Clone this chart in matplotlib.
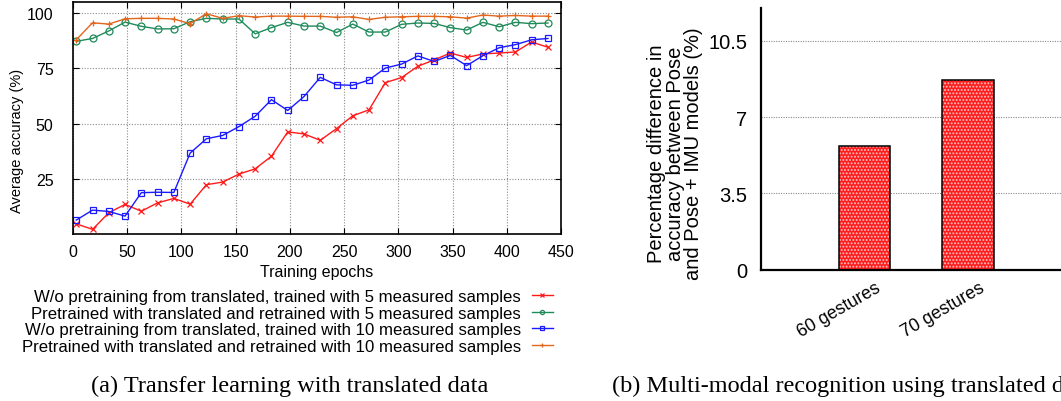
import matplotlib
matplotlib.use("Agg")
import matplotlib.pyplot as plt
import matplotlib.transforms as mtransforms

plt.rcParams['font.family'] = ['Liberation Sans', 'DejaVu Sans']
plt.rcParams['hatch.linewidth'] = 0.9

# ---------------- data (left: transfer learning) ----------------
epochs = [3, 18, 33, 48, 63, 78, 93, 108, 123, 138, 153, 168, 183, 198, 213,
          228, 243, 258, 273, 288, 303, 318, 333, 348, 363, 378, 393, 408, 423, 438]
wo_5 = [4.6, 2.1, 9.6, 13.4, 10.3, 14.1, 16.1, 13.5, 22.3, 23.5, 27.1, 29.5, 35.2, 46.2, 45.3,
        42.4, 47.7, 53.5, 56.2, 68.5, 70.8, 75.9, 78.8, 81.9, 79.9, 81.5, 81.9, 82.4, 86.9, 84.5]
pre_5 = [87.2, 88.5, 91.9, 95.9, 94.0, 92.8, 92.9, 96.1, 97.6, 97.3, 97.3, 90.6, 93.4, 95.8, 94.1,
         94.1, 91.2, 95.0, 91.4, 91.4, 94.9, 95.5, 95.3, 93.4, 92.3, 95.8, 93.8, 95.8, 95.2, 95.5]
wo_10 = [6.3, 10.8, 10.2, 8.1, 18.7, 18.9, 18.8, 36.6, 43.1, 44.6, 48.6, 53.3, 60.8, 55.9, 62.2,
         70.9, 67.5, 67.3, 69.7, 75.1, 76.9, 80.6, 78.1, 80.8, 76.2, 80.7, 84.3, 85.7, 87.9, 88.5]
pre_10 = [87.9, 95.6, 95.0, 97.4, 97.6, 97.6, 97.3, 95.2, 99.7, 97.6, 98.8, 98.2, 98.6, 98.6, 98.5,
          98.5, 98.1, 98.3, 97.1, 98.1, 98.3, 98.5, 98.5, 98.3, 97.7, 99.1, 98.6, 98.9, 98.6, 98.6]
series_labels = [
    "W/o pretraining from translated, trained with 5 measured samples",
    "Pretrained with translated and retrained with 5 measured samples",
    "W/o pretraining from translated, trained with 10 measured samples",
    "Pretrained with translated and retrained with 10 measured samples",
]
x_ticks = [0, 50, 100, 150, 200, 250, 300, 350, 400, 450]
y_ticks = [25, 50, 75, 100]

# ---------------- data (right: multi-modal) ----------------
gesture_labels = ["60 gestures", "70 gestures"]
pct_diff = [5.7, 8.73]
y2_ticks = [0, 3.5, 7, 10.5]
y2_ticklabels = ["0", "3.5", "7", "10.5"]

W, H = 1061, 402
fig = plt.figure(figsize=(W / 100, H / 100), dpi=100)

def px_axes(l, t, r, b):
    return [l / W, 1 - b / H, (r - l) / W, (b - t) / H]

# ---------------- left chart ----------------
ax = fig.add_axes(px_axes(73, 3, 561, 235))
styles = [
    dict(color='#ff1a1a', marker='x', mfc='none'),
    dict(color='#1f8a5a', marker='o', mfc='none'),
    dict(color='#1a1aff', marker='s', mfc='none'),
    dict(color='#e2661c', marker='+', mfc='none'),
]
for ys, st, lab in zip([wo_5, pre_5, wo_10, pre_10], styles, series_labels):
    ax.plot(epochs, ys, lw=1.0, ms=5, mew=0.9, label=lab, **st)

ax.set_xlim(0, 450)
ax.set_ylim(0, 105)
ax.set_xticks(x_ticks)
ax.set_yticks(y_ticks)
ax.tick_params(direction='in', length=4, width=0.8, top=True, right=True,
               labelsize=11.5, pad=7)
ax.tick_params(axis='y', pad=14)
ax.grid(True, color='#8a8a8a', linestyle=(0, (1, 1.5)), lw=0.8)
for sp in ax.spines.values():
    sp.set_linewidth(1.2)
ax.set_xlabel("Training epochs", fontsize=11.5, labelpad=4)
ax.set_ylabel("Average accuracy (%)", fontsize=10.5)
ax.yaxis.set_label_coords((24 - 73) / 488, (235 - 140.5) / 232)

leg = ax.legend(loc='upper right', bbox_to_anchor=(553 / W, 1 - 290 / H),
                bbox_transform=fig.transFigure, frameon=False, markerfirst=False,
                fontsize=12.1, handlelength=1.25, handletextpad=0.65,
                labelspacing=0.1, borderpad=0, borderaxespad=0, markerscale=0.6)

fig.text(289.5 / W, 1 - 386 / H, "(a) Transfer learning with translated data",
         ha='center', va='center', fontsize=17.5, family=['Liberation Serif', 'DejaVu Serif'])

# ---------------- right chart ----------------
px_per_unit = 103.4
left2 = 761
xmin, xmax = -1, 3.2
ax2 = fig.add_axes(px_axes(left2, 9.3, left2 + (xmax - xmin) * px_per_unit, 270.7))
xpos = list(range(len(pct_diff)))
ax2.bar(xpos, pct_diff, width=0.5, color='#ff1e1e', edgecolor='#ffc4c4',
        hatch='.....', linewidth=0, zorder=2)
ax2.bar(xpos, pct_diff, width=0.5, fill=False, edgecolor='black', linewidth=1.1, zorder=3)
ax2.set_xlim(xmin, xmax)
ax2.set_ylim(0, 12)
ax2.set_yticks(y2_ticks)
ax2.set_yticklabels(y2_ticklabels)
ax2.set_xticks(xpos)
ax2.tick_params(axis='x', length=0, pad=0)
ax2.tick_params(axis='y', length=0, labelsize=14.5, pad=10)
ax2.set_xticklabels(gesture_labels, rotation=30, ha='right', va='top',
                    rotation_mode='anchor', fontsize=12.8)
offset = mtransforms.ScaledTranslation(0.11, -0.09, fig.dpi_scale_trans)
for lbl in ax2.get_xticklabels():
    lbl.set_transform(lbl.get_transform() + offset)
ax2.yaxis.grid(True, color='#8a8a8a', linestyle=(0, (1, 1.2)), lw=0.8, zorder=0)
ax2.set_axisbelow(True)
for side in ['top', 'right']:
    ax2.spines[side].set_visible(False)
for side in ['left', 'bottom']:
    ax2.spines[side].set_linewidth(1.6)
ax2.set_ylabel("Percentage difference in\naccuracy between Pose\nand Pose + IMU models (%)",
               fontsize=14.5, linespacing=0.95, multialignment='center')
ax2.yaxis.set_label_coords((703 - left2) / ((xmax - xmin) * px_per_unit), (270.7 - 154) / 261.4)

fig.text(611.7 / W, 1 - 386 / H, "(b) Multi-modal recognition using translated data",
         ha='left', va='center', fontsize=17.5, family=['Liberation Serif', 'DejaVu Serif'])

fig.savefig("out.png", dpi=100)
